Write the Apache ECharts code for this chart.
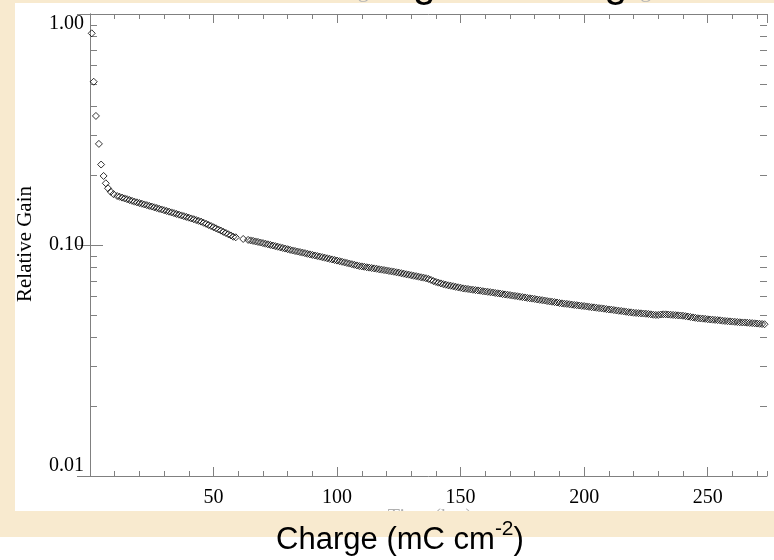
<!DOCTYPE html>
<html>
<head>
<meta charset="utf-8">
<title>Relative Gain vs Charge</title>
<script src="https://cdn.jsdelivr.net/npm/echarts@6/dist/echarts.min.js"></script>
<style>
  html, body { margin: 0; padding: 0; background: #fff; }
  #chart { width: 774px; height: 560px; }
</style>
</head>
<body>
<div id="chart"></div>
<script>
// accumulated charge (mC cm-2)
const charge = [
  0.7, 1.5, 2.4, 3.6, 4.5, 5.5, 6.4, 7.3, 8.4, 9.5,
  11, 12, 13, 14, 15, 16, 17, 18, 19, 20,
  21, 22, 23, 24, 25, 26, 27, 28, 29, 30,
  31, 32, 33, 34, 35, 36, 37, 38, 39, 40,
  41, 42, 43, 44, 45, 46, 47, 48, 49, 50,
  51, 52, 53, 54, 55, 56, 57, 58, 59, 62,
  64, 65, 66, 67, 68, 69, 70, 71, 72, 73,
  74, 75, 76, 77, 78, 79, 80, 81, 82, 83,
  84, 85, 86, 87, 88, 89, 90, 91, 92, 93,
  94, 95, 96, 97, 98, 99, 100, 101, 102, 103,
  104, 105, 106, 107, 108, 109, 110, 111, 112, 113,
  114, 115, 116, 117, 118, 119, 120, 121, 122, 123,
  124, 125, 126, 127, 128, 129, 130, 131, 132, 133,
  134, 135, 136, 137, 138, 139, 140, 141, 142, 143,
  144, 145, 146, 147, 148, 149, 150, 151, 152, 153,
  154, 155, 156, 157, 158, 159, 160, 161, 162, 163,
  164, 165, 166, 167, 168, 169, 170, 171, 172, 173,
  174, 175, 176, 177, 178, 179, 180, 181, 182, 183,
  184, 185, 186, 187, 188, 189, 190, 191, 192, 193,
  194, 195, 196, 197, 198, 199, 200, 201, 202, 203,
  204, 205, 206, 207, 208, 209, 210, 211, 212, 213,
  214, 215, 216, 217, 218, 219, 220, 221, 222, 223,
  224, 225, 226, 227, 228, 229, 230, 231, 232, 233,
  234, 235, 236, 237, 238, 239, 240, 241, 242, 243,
  244, 245, 246, 247, 248, 249, 250, 251, 252, 253,
  254, 255, 256, 257, 258, 259, 260, 261, 262, 263,
  264, 265, 266, 267, 268, 269, 270, 271, 272, 273
]
// relative gain at each charge value
const gain = [
  0.825, 0.509, 0.362, 0.274, 0.223, 0.199, 0.185, 0.176, 0.170, 0.166,
  0.1630, 0.1617, 0.1604, 0.1591, 0.1579, 0.1566, 0.1553, 0.1540, 0.1530, 0.1519,
  0.1509, 0.1498, 0.1488, 0.1477, 0.1467, 0.1456, 0.1446, 0.1435, 0.1425, 0.1414,
  0.1404, 0.1394, 0.1384, 0.1374, 0.1363, 0.1353, 0.1343, 0.1333, 0.1323, 0.1313,
  0.1303, 0.1293, 0.1282, 0.1272, 0.1262, 0.1248, 0.1235, 0.1221, 0.1208, 0.1194,
  0.1181, 0.1167, 0.1154, 0.1140, 0.1127, 0.1113, 0.1100, 0.1086, 0.1080, 0.1062,
  0.1052, 0.1047, 0.1042, 0.1036, 0.1031, 0.1025, 0.1019, 0.1013, 0.1007, 0.1001,
  0.0995, 0.0989, 0.0983, 0.0977, 0.0971, 0.0965, 0.0959, 0.0953, 0.0947, 0.0942,
  0.0937, 0.0932, 0.0927, 0.0922, 0.0916, 0.0911, 0.0906, 0.0901, 0.0896, 0.0891,
  0.0886, 0.0881, 0.0876, 0.0871, 0.0866, 0.0861, 0.0856, 0.0851, 0.0846, 0.0841,
  0.0836, 0.0831, 0.0826, 0.0821, 0.0816, 0.0811, 0.0808, 0.0805, 0.0801, 0.0798,
  0.0795, 0.0792, 0.0789, 0.0785, 0.0782, 0.0779, 0.0776, 0.0772, 0.0769, 0.0766,
  0.0762, 0.0759, 0.0755, 0.0751, 0.0747, 0.0744, 0.0740, 0.0736, 0.0733, 0.0729,
  0.0725, 0.0722, 0.0718, 0.0713, 0.0706, 0.0698, 0.0692, 0.0687, 0.0682, 0.0677,
  0.0673, 0.0669, 0.0666, 0.0663, 0.0659, 0.0656, 0.0653, 0.0649, 0.0647, 0.0645,
  0.0642, 0.0640, 0.0638, 0.0636, 0.0634, 0.0631, 0.0629, 0.0627, 0.0625, 0.0623,
  0.0620, 0.0618, 0.0616, 0.0613, 0.0611, 0.0609, 0.0607, 0.0604, 0.0602, 0.0600,
  0.0597, 0.0595, 0.0593, 0.0590, 0.0588, 0.0586, 0.0584, 0.0581, 0.0579, 0.0577,
  0.0575, 0.0572, 0.0570, 0.0568, 0.0566, 0.0564, 0.0561, 0.0559, 0.0557, 0.0556,
  0.0554, 0.0552, 0.0550, 0.0549, 0.0547, 0.0545, 0.0544, 0.0542, 0.0540, 0.0538,
  0.0537, 0.0535, 0.0533, 0.0532, 0.0530, 0.0528, 0.0526, 0.0525, 0.0523, 0.0521,
  0.0519, 0.0518, 0.0516, 0.0514, 0.0512, 0.0511, 0.0509, 0.0508, 0.0507, 0.0506,
  0.0505, 0.0504, 0.0503, 0.0501, 0.0499, 0.0498, 0.0498, 0.0500, 0.0501, 0.0501,
  0.0500, 0.0499, 0.0498, 0.0497, 0.0496, 0.0495, 0.0494, 0.0492, 0.0490, 0.0488,
  0.0486, 0.0484, 0.0482, 0.0481, 0.0480, 0.0479, 0.0477, 0.0476, 0.0475, 0.0474,
  0.0473, 0.0472, 0.0470, 0.0469, 0.0468, 0.0467, 0.0466, 0.0465, 0.0464, 0.0463,
  0.0462, 0.0462, 0.0461, 0.0460, 0.0459, 0.0458, 0.0457, 0.0456, 0.0455, 0.0454
]
// minor ticks of the log axis
const gainMinorTicks = [0.02, 0.03, 0.04, 0.05, 0.06, 0.07, 0.08, 0.09, 0.2, 0.3, 0.4, 0.5, 0.6, 0.7, 0.8, 0.9]

const serif = '"Liberation Serif", "Times New Roman", serif'
const sans = '"Liberation Sans", Arial, sans-serif'
const axisGray = '#808080'
const beige = '#f8eacf'

const chart = echarts.init(document.getElementById('chart'))

// x axes: long ticks every 50, short ticks every 10, mirrored on top
function xAxisOf(position, step, tickLen, withLabels) {
  return {
    type: 'value',
    position: position,
    min: 0,
    max: 274,
    interval: step,
    splitLine: { show: false },
    axisLine: { show: step === 50, lineStyle: { color: axisGray, width: 1 } },
    axisTick: { show: true, inside: true, length: tickLen, lineStyle: { color: axisGray } },
    axisLabel: {
      show: withLabels,
      showMinLabel: false,
      showMaxLabel: false,
      margin: 12,
      color: '#000',
      fontSize: 20,
      fontFamily: serif
    }
  }
}

function yAxisOf(position, withLabels) {
  return {
    type: 'log',
    logBase: 10,
    position: position,
    min: 0.01,
    max: 1,
    splitLine: { show: false },
    axisLine: { show: true, lineStyle: { color: axisGray, width: 1 } },
    axisTick: { show: true, inside: true, length: 13, lineStyle: { color: axisGray } },
    axisLabel: {
      show: withLabels,
      margin: 6,
      color: '#000',
      fontSize: 20,
      fontFamily: serif,
      verticalAlignMinLabel: 'bottom',
      verticalAlignMaxLabel: 'top',
      formatter: function(v) { return Number(v).toFixed(2) }
    }
  }
}

chart.setOption({
  backgroundColor: '#fff',
  animation: false,
  grid: { left: 90, right: 7, top: 14, bottom: 84 },
  xAxis: [
    xAxisOf('bottom', 50, 9, true),
    xAxisOf('bottom', 10, 5, false),
    xAxisOf('top', 50, 9, false),
    xAxisOf('top', 10, 5, false)
  ],
  yAxis: [
    yAxisOf('left', true),
    yAxisOf('right', false)
  ],
  graphic: [
    { type: 'rect', z: -10, shape: { x: 0, y: 0, width: 774, height: 537 }, style: { fill: beige } },
    { type: 'rect', z: -9, shape: { x: 15, y: 3, width: 759, height: 508 }, style: { fill: '#fff' } },
    { // idl x title, mostly hidden behind the band
      type: 'text', z: -8, x: 430, y: 508,
      style: { text: 'Time (hrs)', fill: '#b0b0b0', font: '20px ' + serif, textAlign: 'center', textVerticalAlign: 'top' }
    },
    { type: 'rect', z: -7, shape: { x: 0, y: 511, width: 774, height: 26 }, style: { fill: beige } },
    { // titles cut by the top edge
      type: 'text', z: 50, x: 433, y: -9,
      style: { text: 'Relative Gain Degradation versus Extracted Charge', fill: '#b4b4b4', font: '22px ' + serif, textAlign: 'center', textVerticalAlign: 'middle' }
    },
    {
      type: 'text', z: 51, x: 261, y: -16,
      style: { text: 'Gain Sag vs. Charge', fill: '#000', font: '42px ' + sans, textAlign: 'left', textVerticalAlign: 'middle' }
    },
    {
      type: 'text', z: 50, x: 25, y: 244, rotation: Math.PI / 2,
      style: { text: 'Relative Gain', fill: '#000', font: '21px ' + serif, textAlign: 'center', textVerticalAlign: 'middle' }
    },
    {
      type: 'text', z: 50, x: 400, y: 537,
      style: {
        text: '{a|Charge (mC cm}{s|-2}{a|)}',
        textAlign: 'center',
        textVerticalAlign: 'middle',
        rich: {
          a: { fontSize: 31, fontFamily: sans, fill: '#000', lineHeight: 37, verticalAlign: 'bottom' },
          s: { fontSize: 21, fontFamily: sans, fill: '#000', lineHeight: 21, verticalAlign: 'top' }
        }
      }
    }
  ],
  series: [
    {
      name: 'Relative Gain',
      type: 'scatter',
      xAxisIndex: 0,
      yAxisIndex: 0,
      symbol: 'diamond',
      symbolSize: 7,
      data: charge.map((c, i) => [c, gain[i]]),
      itemStyle: { color: 'rgba(0,0,0,0)', borderColor: '#000', borderWidth: 1 },
      z: 3
    },
    {
      // short minor ticks on both log axes
      type: 'custom',
      xAxisIndex: 0,
      yAxisIndex: 0,
      silent: true,
      data: gainMinorTicks.map(v => [0, v]),
      renderItem: function(params, api) {
        const cs = params.coordSys
        const y = Math.round(api.coord([0, api.value(1)])[1]) + 0.5
        const st = { stroke: axisGray, lineWidth: 1 }
        return {
          type: 'group',
          children: [
            { type: 'line', shape: { x1: cs.x, y1: y, x2: cs.x + 7, y2: y }, style: st },
            { type: 'line', shape: { x1: cs.x + cs.width - 7, y1: y, x2: cs.x + cs.width, y2: y }, style: st }
          ]
        }
      },
      z: 2
    }
  ]
})
</script>
</body>
</html>
